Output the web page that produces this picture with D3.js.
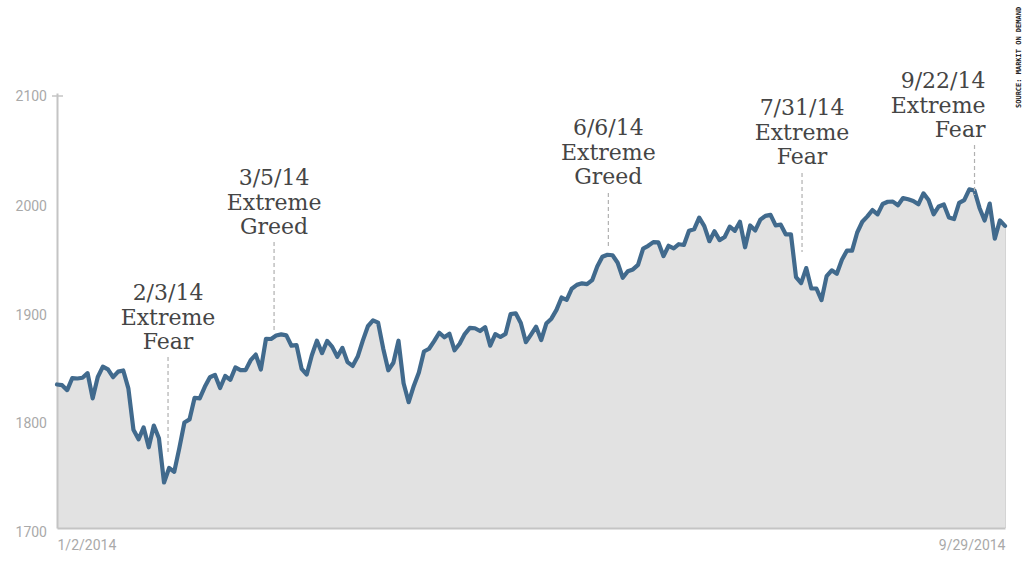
<!DOCTYPE html>
<html>
<head>
<meta charset="utf-8">
<script src="https://cdn.jsdelivr.net/npm/d3@7"></script>
<style>
html,body{margin:0;padding:0;background:#fff;}
svg{display:block;}
</style>
</head>
<body>
<svg id="chart" width="1024" height="576"></svg>
<script>
// ---- DATA ----
const dates = [
"1/2","1/3","1/6","1/7","1/8","1/9","1/10","1/13","1/14","1/15","1/16","1/17","1/21","1/22","1/23","1/24","1/27","1/28","1/29","1/30","1/31",
"2/3","2/4","2/5","2/6","2/7","2/10","2/11","2/12","2/13","2/14","2/18","2/19","2/20","2/21","2/24","2/25","2/26","2/27","2/28",
"3/3","3/4","3/5","3/6","3/7","3/10","3/11","3/12","3/13","3/14","3/17","3/18","3/19","3/20","3/21","3/24","3/25","3/26","3/27","3/28","3/31",
"4/1","4/2","4/3","4/4","4/7","4/8","4/9","4/10","4/11","4/14","4/15","4/16","4/17","4/21","4/22","4/23","4/24","4/25","4/28","4/29","4/30",
"5/1","5/2","5/5","5/6","5/7","5/8","5/9","5/12","5/13","5/14","5/15","5/16","5/19","5/20","5/21","5/22","5/23","5/27","5/28","5/29","5/30",
"6/2","6/3","6/4","6/5","6/6","6/9","6/10","6/11","6/12","6/13","6/16","6/17","6/18","6/19","6/20","6/23","6/24","6/25","6/26","6/27","6/30",
"7/1","7/2","7/3","7/7","7/8","7/9","7/10","7/11","7/14","7/15","7/16","7/17","7/18","7/21","7/22","7/23","7/24","7/25","7/28","7/29","7/30","7/31",
"8/1","8/4","8/5","8/6","8/7","8/8","8/11","8/12","8/13","8/14","8/15","8/18","8/19","8/20","8/21","8/22","8/25","8/26","8/27","8/28","8/29",
"9/2","9/3","9/4","9/5","9/8","9/9","9/10","9/11","9/12","9/15","9/16","9/17","9/18","9/19","9/22","9/23","9/24","9/25","9/26","9/29"
];
const closes = [
1831.98,1831.37,1826.77,1837.88,1837.49,1838.13,1842.37,1819.20,1838.88,1848.38,1845.89,1838.70,1843.80,1844.86,1828.46,1790.29,1781.56,1792.50,1774.20,1794.19,1782.59,
1741.89,1755.20,1751.64,1773.43,1797.02,1799.84,1819.75,1819.26,1829.83,1838.63,1840.76,1828.75,1839.78,1836.25,1847.61,1845.12,1845.16,1854.29,1859.45,
1845.73,1873.91,1873.81,1877.03,1878.04,1877.17,1867.63,1868.20,1846.34,1841.13,1858.83,1872.25,1860.77,1872.01,1866.52,1857.44,1865.62,1852.56,1849.04,1857.62,1872.34,
1885.52,1890.90,1888.77,1865.09,1845.04,1851.96,1872.18,1833.08,1815.69,1830.61,1842.98,1862.31,1864.85,1871.89,1879.55,1875.39,1878.61,1863.40,1869.43,1878.33,1883.95,
1883.68,1881.14,1884.66,1867.72,1878.21,1875.63,1878.48,1896.65,1897.45,1888.53,1870.85,1877.86,1885.08,1872.83,1888.03,1892.49,1900.53,1911.91,1909.78,1920.03,1923.57,
1924.97,1924.24,1927.88,1940.46,1949.44,1951.27,1950.79,1943.89,1930.11,1936.16,1937.78,1941.99,1956.98,1959.48,1962.87,1962.61,1949.98,1959.53,1957.22,1960.96,1960.23,
1973.32,1974.62,1985.44,1977.65,1963.71,1972.83,1964.68,1967.57,1977.10,1973.28,1981.57,1958.12,1978.22,1973.63,1983.53,1987.01,1987.98,1978.34,1978.91,1969.95,1970.07,1930.67,
1925.15,1938.99,1920.21,1920.24,1909.57,1931.59,1936.92,1933.75,1946.72,1955.18,1955.06,1971.74,1981.60,1986.51,1992.37,1988.40,1997.92,2000.02,2000.12,1996.74,2003.37,
2002.28,2000.72,1997.65,2007.71,2001.54,1988.44,1995.69,1997.45,1985.54,1984.13,1998.98,2001.57,2011.36,2010.40,1994.29,1982.77,1998.30,1965.99,1982.85,1977.80
];
const yTicks = [1700, 1800, 1900, 2000, 2100];
const xTickLabels = ["1/2/2014", "9/29/2014"];
const annDates = ["2/3", "3/5", "6/6", "7/31", "9/22"];
const annLabels = [
  ["2/3/14", "Extreme", "Fear"],
  ["3/5/14", "Extreme", "Greed"],
  ["6/6/14", "Extreme", "Greed"],
  ["7/31/14", "Extreme", "Fear"],
  ["9/22/14", "Extreme", "Fear"]
];
const sourceText = "SOURCE: MARKIT ON DEMAND";

// ---- LAYOUT (positions / styles) ----
const M = {left: 57, right: 1005, top: 93, bottom: 528};
const annLayout = [
  {dx: 4,  anchor: "middle", tx: 0,  base: 300, y0: 357, y1: 452},
  {dx: 3,  anchor: "middle", tx: 0,  base: 185, y0: 242, y1: 333},
  {dx: 6,  anchor: "middle", tx: 0,  base: 135, y0: 193, y1: 247},
  {dx: 6,  anchor: "middle", tx: 0,  base: 115, y0: 173, y1: 252},
  {dx: -5, anchor: "end",    tx: 11, base: 88,  y0: 145, y1: 195}
];

const svg = d3.select("#chart");
const data = dates.map((d, i) => ({date: d, value: closes[i]}));

const x = d3.scalePoint().domain(dates).range([M.left, M.right]);
const y = d3.scaleLinear().domain([1700, 2100]).range([M.bottom, M.top]);

// area
svg.append("path")
  .datum(data)
  .attr("fill", "#e2e2e2")
  .attr("d", d3.area().x(d => x(d.date)).y0(M.bottom).y1(d => y(d.value)));

// right edge of area
svg.append("line")
  .attr("x1", M.right + 0.5).attr("x2", M.right + 0.5)
  .attr("y1", y(closes[closes.length - 1])).attr("y2", M.bottom)
  .attr("stroke", "#d4d4d4").attr("stroke-width", 1);

// y axis
const yAxis = d3.axisLeft(y).tickValues(yTicks).tickSize(0).tickPadding(10).tickFormat(d3.format("d"));
const gy = svg.append("g").attr("transform", `translate(${M.left},0)`).call(yAxis);
gy.select(".domain").attr("stroke", "#c4c4c4").attr("stroke-width", 2);
gy.selectAll(".tick text")
  .attr("fill", "#a9a9a9")
  .attr("font-family", "Roboto, 'Liberation Sans', sans-serif")
  .attr("font-size", 14)
  .attr("dy", (d) => d === 2100 ? "0.5em" : "0.62em");
// top cap
svg.append("line")
  .attr("x1", M.left - 5).attr("x2", M.left + 6)
  .attr("y1", y(2100) + 3).attr("y2", y(2100) + 3)
  .attr("stroke", "#c4c4c4").attr("stroke-width", 1.5);

// baseline (x axis)
const xAxis = d3.axisBottom(x).tickValues([dates[0], dates[dates.length - 1]]).tickSize(0).tickPadding(12)
  .tickFormat((d, i) => xTickLabels[i]);
const gx = svg.append("g").attr("transform", `translate(0,${M.bottom})`).call(xAxis);
gx.select(".domain").attr("stroke", "#c4c4c4").attr("stroke-width", 2);
gx.selectAll(".tick text")
  .attr("fill", "#a9a9a9")
  .attr("font-family", "Roboto, 'Liberation Sans', sans-serif")
  .attr("font-size", 14)
  .attr("text-anchor", (d, i) => i === 0 ? "start" : "end");

// line
svg.append("path")
  .datum(data)
  .attr("fill", "none")
  .attr("stroke", "#416a8d")
  .attr("stroke-width", 4.2)
  .attr("stroke-linejoin", "round")
  .attr("stroke-linecap", "round")
  .attr("d", d3.line().x(d => x(d.date)).y(d => y(d.value)));

// annotations
annDates.forEach((d, i) => {
  const L = annLayout[i];
  const ax = x(d) + L.dx;
  svg.append("line")
    .attr("x1", ax).attr("x2", ax)
    .attr("y1", L.y0).attr("y2", L.y1)
    .attr("stroke", "#b0b0b0").attr("stroke-width", 1.2)
    .attr("stroke-dasharray", "4,3");
  const t = svg.append("text")
    .attr("text-anchor", L.anchor)
    .attr("font-family", "'DejaVu Serif', serif")
    .attr("font-size", 22)
    .attr("fill", "#454545");
  annLabels[i].forEach((s, j) => {
    t.append("tspan")
      .attr("x", ax + L.tx)
      .attr("y", L.base + j * 24.7)
      .text(s);
  });
});

// source
svg.append("text")
  .attr("transform", "translate(1021,108) rotate(-90)")
  .attr("font-family", "'DejaVu Sans Mono', monospace")
  .attr("font-size", 7)
  .attr("font-weight", "bold")
  .attr("fill", "#222")
  .text(sourceText);
</script>
</body>
</html>
